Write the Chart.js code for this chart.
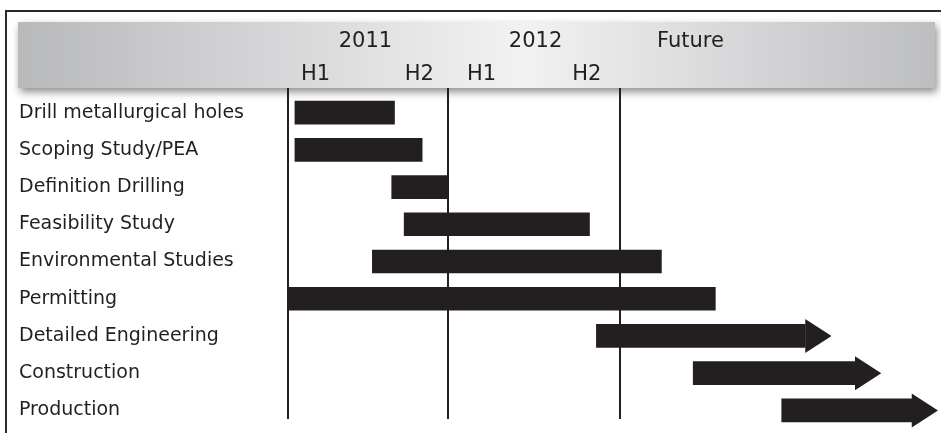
<!DOCTYPE html>
<html>
<head>
<meta charset="utf-8">
<script src="https://cdn.jsdelivr.net/npm/chart.js@4"></script>
<style>
  html, body { margin: 0; padding: 0; background: #fff; }
  canvas { display: block; }
</style>
</head>
<body>
<canvas id="timeline" width="941" height="433"></canvas>
<script>
// months counted from January 2011
const tasks = [
  'Drill metallurgical holes',
  'Scoping Study/PEA',
  'Definition Drilling',
  'Feasibility Study',
  'Environmental Studies',
  'Permitting',
  'Detailed Engineering',
  'Construction',
  'Production'
]
const startMonths = [ 0.5, 0.5, 7.5, 8.4, 6.1, 0, 22.3, 29.3, 35.7 ]
const endMonths = [ 7.7, 9.7, 11.6, 21.8, 27.0, 30.9, 37.4, 41.0, 45.1 ]
const arrowTips = [ null, null, null, null, null, null, 39.3, 42.9, 47.0 ]

const dividers = [ 0, 11.6, 24 ]
const yearLabels = [ '2011', '2012', 'Future' ]
const yearPos = [ 5.6, 17.9, 29.1 ]
const halfLabels = [ 'H1', 'H2', 'H1', 'H2' ]
const halfPos = [ 2.0, 9.5, 14.0, 21.6 ]

const ink = '#231f20'
const font = 'DejaVu Sans'

const frameAndHeader = {
  id: 'frameAndHeader',
  beforeDraw(chart) {
    const { ctx } = chart
    ctx.save()
    // outer frame (cropped on the right and bottom)
    ctx.strokeStyle = '#2a2a2a'
    ctx.lineWidth = 2
    ctx.beginPath()
    ctx.moveTo(6, 433)
    ctx.lineTo(6, 11)
    ctx.lineTo(941, 11)
    ctx.stroke()

    // grey header band with a soft shadow
    const grad = ctx.createLinearGradient(18, 0, 935, 0)
    grad.addColorStop(0, '#b8b9bb')
    grad.addColorStop(0.55, '#f2f2f3')
    grad.addColorStop(1, '#bdbec0')
    ctx.shadowColor = 'rgba(0,0,0,0.45)'
    ctx.shadowBlur = 8
    ctx.shadowOffsetX = 2
    ctx.shadowOffsetY = 4
    ctx.fillStyle = grad
    ctx.fillRect(18, 22, 917, 66)
    ctx.restore()
  },
  afterDraw(chart) {
    const { ctx, scales: { x } } = chart
    ctx.save()
    ctx.fillStyle = ink
    ctx.textAlign = 'center'
    ctx.textBaseline = 'alphabetic'
    ctx.font = '21px "' + font + '"'
    yearLabels.forEach((label, i) => {
      ctx.fillText(label, x.getPixelForValue(yearPos[i]), 47)
    })
    halfLabels.forEach((label, i) => {
      ctx.fillText(label, x.getPixelForValue(halfPos[i]), 80)
    })
    ctx.restore()
  }
}

const dividerLines = {
  id: 'dividerLines',
  beforeDatasetsDraw(chart) {
    const { ctx, scales: { x } } = chart
    ctx.save()
    ctx.strokeStyle = ink
    ctx.lineWidth = 2
    dividers.forEach(v => {
      const px = Math.round(x.getPixelForValue(v))
      ctx.beginPath()
      ctx.moveTo(px, 88)
      ctx.lineTo(px, 419)
      ctx.stroke()
    })
    ctx.restore()
  }
}

const arrowHeads = {
  id: 'arrowHeads',
  afterDatasetsDraw(chart) {
    const { ctx, scales: { x } } = chart
    const meta = chart.getDatasetMeta(0)
    ctx.save()
    ctx.fillStyle = ink
    arrowTips.forEach((tip, i) => {
      if (tip === null) return
      const y = meta.data[i].y
      const base = x.getPixelForValue(endMonths[i])
      ctx.beginPath()
      ctx.moveTo(base, y - 17)
      ctx.lineTo(x.getPixelForValue(tip), y)
      ctx.lineTo(base, y + 17)
      ctx.closePath()
      ctx.fill()
    })
    ctx.restore()
  }
}

new Chart(document.querySelector('#timeline'), {
  plugins: [frameAndHeader, dividerLines, arrowHeads],
  type: 'bar',
  data: {
    labels: tasks,
    datasets: [{
      data: startMonths.map((s, i) => [s, endMonths[i]]),
      backgroundColor: ink,
      borderWidth: 0,
      barThickness: 23
    }]
  },
  options: {
    indexAxis: 'y',
    responsive: false,
    animation: false,
    layout: {
      padding: { left: 19, top: 94, right: 3, bottom: 4 }
    },
    scales: {
      x: {
        display: false,
        min: 0,
        max: 47
      },
      y: {
        afterFit(scale) {
          scale.width = 269
          // labels sit in the row centres, so no extra room is needed at the ends
          scale.paddingTop = 0
          scale.paddingBottom = 0
        },
        grid: { display: false },
        border: { display: false },
        ticks: {
          crossAlign: 'far',
          padding: 0,
          color: ink,
          font: { family: font, size: 19 }
        }
      }
    },
    plugins: {
      legend: { display: false },
      tooltip: { enabled: false }
    }
  }
})
</script>
</body>
</html>
